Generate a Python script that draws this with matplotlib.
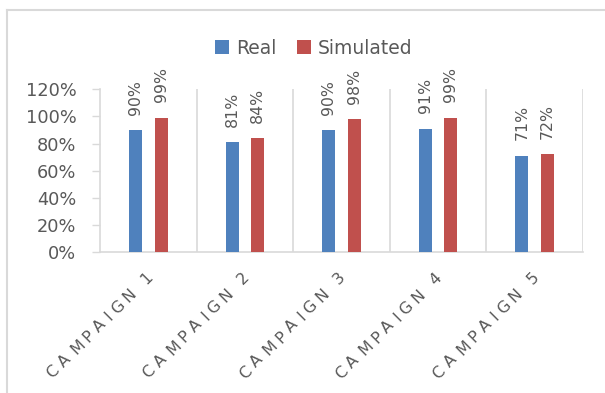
import numpy as np
import matplotlib
matplotlib.use("Agg")
import matplotlib.pyplot as plt
from matplotlib.lines import Line2D
from matplotlib.textpath import TextPath
from matplotlib.font_manager import FontProperties

# Campaign results (percent)
campaigns = ["CAMPAIGN 1", "CAMPAIGN 2", "CAMPAIGN 3", "CAMPAIGN 4", "CAMPAIGN 5"]
real = [90, 81, 90, 91, 71]
simulated = [99, 84, 98, 99, 72]
y_ticks = [0, 20, 40, 60, 80, 100, 120]

BLUE = "#4F81BD"
RED = "#C0504D"
GREY_TXT = "#595959"
GREY_LINE = "#D9D9D9"

fig = plt.figure(figsize=(6.05, 3.93), dpi=100)
ax = fig.add_axes([100 / 605, 141 / 393, 483 / 605, 162.7 / 393])

x = np.arange(len(campaigns))
bar_w = 0.135
off = 0.1325
ax.bar(x - off, real, bar_w, color=BLUE, label="Real", zorder=3)
ax.bar(x + off, simulated, bar_w, color=RED, label="Simulated", zorder=3)

# value labels, rotated, above each bar
for xs, vals in ((x - off, real), (x + off, simulated)):
    for xi, v in zip(xs, vals):
        ax.annotate(f"{v}%", (xi, v), xytext=(0, 11), textcoords="offset points",
                    rotation=90, ha="center", va="bottom", fontsize=11.3, color=GREY_TXT)

ax.set_xlim(-0.5, len(campaigns) - 0.5)
ax.set_ylim(0, 120)
ax.set_yticks(y_ticks)
ax.set_yticklabels([f"{t}%" for t in y_ticks])
ax.tick_params(axis="y", length=6, width=1, color=GREY_LINE, pad=11,
               labelsize=12.8, labelcolor=GREY_TXT)
ax.set_xticks([])

# separators between categories
for b in np.arange(0.5, len(campaigns), 1.0):
    ax.axvline(b, color=GREY_LINE, lw=1.2, zorder=1)

for side in ("top", "right"):
    ax.spines[side].set_visible(False)
for side in ("left", "bottom"):
    ax.spines[side].set_color(GREY_LINE)
    ax.spines[side].set_linewidth(1.2)

# category labels at 45 degrees, drawn letter by letter with extra tracking
lab_size = 11.5
fp = FontProperties(family="DejaVu Sans", size=lab_size)
track = 3.9  # points added after each letter
c45 = np.cos(np.pi / 4)


def advance(ch):
    if ch == " ":
        return 0.25 * lab_size
    return TextPath((0, 0), ch, size=lab_size, prop=fp).get_extents().width + 1.0


end_dx, end_dy = 4 * 0.72, -27 * 0.72  # baseline end relative to the category foot
for xi, name in zip(x, campaigns):
    adv = [advance(ch) for ch in name]
    total = sum(adv) + track * (len(name) - 1)
    s = 0.0
    for ch, a in zip(name, adv):
        pos = s - total
        ax.annotate(ch, (xi, 0), xytext=(end_dx + pos * c45, end_dy + pos * c45),
                    textcoords="offset points", rotation=45, rotation_mode="anchor",
                    ha="left", va="baseline", fontproperties=fp, color=GREY_TXT,
                    annotation_clip=False)
        s += a + track

fig.legend(loc="center", bbox_to_anchor=(313.5 / 605, 1 - 48 / 393), ncol=2,
           frameon=False, fontsize=13.5, labelcolor=GREY_TXT,
           handlelength=0.75, handleheight=0.75, handletextpad=0.35,
           columnspacing=1.1, borderpad=0)

# chart area border
fig.add_artist(Line2D([6.5 / 605, 1], [1 - 10 / 393, 1 - 10 / 393],
                      transform=fig.transFigure, color=GREY_LINE, lw=1.5))
fig.add_artist(Line2D([6.5 / 605, 6.5 / 605], [0, 1 - 10 / 393],
                      transform=fig.transFigure, color=GREY_LINE, lw=1.5))

fig.savefig("out.png", dpi=100)
